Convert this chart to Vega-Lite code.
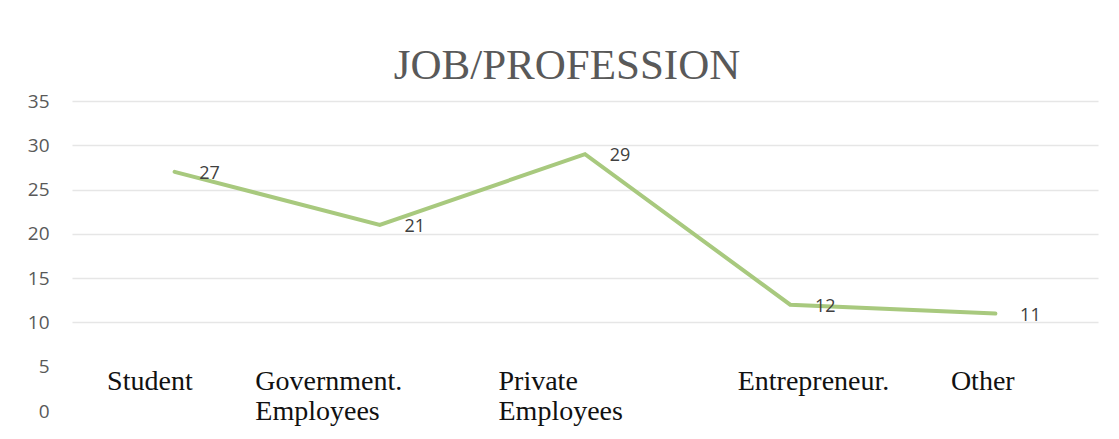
{
  "$schema": "https://vega.github.io/schema/vega-lite/v6.json",
  "autosize": {"type": "none"},
  "width": 1026,
  "height": 310,
  "padding": {"left": 72, "top": 101, "right": 21, "bottom": 28},
  "background": "white",
  "title": {
    "text": "JOB/PROFESSION",
    "font": "Liberation Serif",
    "fontSize": 43,
    "fontWeight": "normal",
    "color": "#595959",
    "anchor": "middle",
    "dx": -18,
    "offset": 4
  },
  "config": {"view": {"stroke": null}},
  "data": {
    "values": [
      {"job": "Student", "count": 27},
      {"job": "Government. Employees", "count": 21},
      {"job": "Private Employees", "count": 29},
      {"job": "Entrepreneur.", "count": 12},
      {"job": "Other", "count": 11}
    ]
  },
  "encoding": {
    "x": {
      "field": "job",
      "type": "nominal",
      "sort": null,
      "scale": {"type": "point", "padding": 0.5},
      "axis": {
        "title": null,
        "orient": "bottom",
        "offset": -22,
        "domain": false,
        "ticks": false,
        "grid": false,
        "labelPadding": 0,
        "labelAngle": 0,
        "labelAlign": "left",
        "labelBaseline": "alphabetic",
        "labelFont": "Liberation Serif",
        "labelFontSize": 28,
        "labelColor": "#111111",
        "labelLineHeight": 30,
        "labelOverlap": false,
        "labelBound": false,
        "labelFlush": false,
        "labelExpr": "datum.label == 'Private Employees' ? ['Private', '\u00a0Employees'] : split(datum.label, ' ')",
        "labelOffset": {
          "condition": [
            {"test": "datum.value == 'Student'", "value": -68},
            {"test": "datum.value == 'Government. Employees'", "value": -125},
            {"test": "datum.value == 'Private Employees'", "value": -87},
            {"test": "datum.value == 'Entrepreneur.'", "value": -53}
          ],
          "value": -45
        }
      }
    },
    "y": {
      "field": "count",
      "type": "quantitative",
      "scale": {"domain": [0, 35], "nice": false},
      "axis": {
        "title": null,
        "values": [0, 5, 10, 15, 20, 25, 30, 35],
        "domain": false,
        "ticks": false,
        "labelPadding": 23,
        "labelFont": "Open Sans",
        "labelFontSize": 19,
        "labelColor": "#595959",
        "gridColor": {"condition": {"test": "datum.value < 10", "value": "transparent"}, "value": "#e6e6e6"},
        "gridWidth": 1.5
      }
    }
  },
  "layer": [
    {
      "mark": {"type": "line", "color": "#a8c97e", "strokeWidth": 4, "strokeCap": "round", "strokeJoin": "miter"}
    },
    {
      "mark": {"type": "text", "dx": 35, "dy": 2, "align": "center", "baseline": "middle", "font": "Open Sans", "fontSize": 18, "color": "#404040"},
      "encoding": {"text": {"field": "count", "type": "quantitative"}}
    }
  ]
}
